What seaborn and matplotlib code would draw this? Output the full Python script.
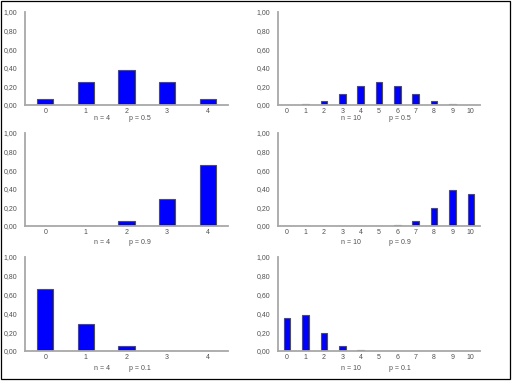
import matplotlib
matplotlib.use("Agg")
import matplotlib.pyplot as plt
import matplotlib.ticker as mtick
from matplotlib.patches import Rectangle
import seaborn as sns

# probabilities
k4 = [0, 1, 2, 3, 4]
k10 = [0, 1, 2, 3, 4, 5, 6, 7, 8, 9, 10]
p4_05 = [0.0625, 0.25, 0.375, 0.25, 0.0625]
p10_05 = [0.001, 0.010, 0.044, 0.117, 0.205, 0.246, 0.205, 0.117, 0.044, 0.010, 0.001]
p4_09 = [0.0001, 0.0036, 0.0486, 0.2916, 0.6561]
p10_09 = [0.0, 0.0, 0.0, 0.0, 0.0001, 0.0015, 0.011, 0.057, 0.194, 0.387, 0.349]
p4_01 = [0.6561, 0.2916, 0.0486, 0.0036, 0.0001]
p10_01 = [0.349, 0.387, 0.194, 0.057, 0.011, 0.0015, 0.0001, 0.0, 0.0, 0.0, 0.0]

panels = [
    (k4, p4_05, "4", "0.5"), (k10, p10_05, "10", "0.5"),
    (k4, p4_09, "4", "0.9"), (k10, p10_09, "10", "0.9"),
    (k4, p4_01, "4", "0.1"), (k10, p10_01, "10", "0.1"),
]

sns.set_style("white")
plt.rcParams['font.family'] = ['Liberation Sans', 'DejaVu Sans']

W, H = 512, 384
fig = plt.figure(figsize=(W / 100, H / 100), dpi=100)

# pixel boxes: left, right, top, bottom
cols = [(25, 228), (278, 480)]
rows = [(12, 105), (133, 226), (257, 351)]
label_y = [118, 243, 368]
n_x = [102, 351]
p_x = [140, 400]

spine_c = '#a8a8a8'
text_c = '#505050'
fmt = mtick.FuncFormatter(lambda v, pos: f"{v:.2f}".replace('.', ','))

for i, (k, probs, n, p) in enumerate(panels):
    r, c = divmod(i, 2)
    l, rr = cols[c]
    t, b = rows[r]
    ax = fig.add_axes([l / W, 1 - b / H, (rr - l) / W, (b - t) / H])
    sns.barplot(x=k, y=probs, ax=ax, color='#0000ff', saturation=1,
                width=0.4 if len(k) == 5 else 0.36,
                edgecolor='#505050', linewidth=0.8)
    ax.set_xlim(-0.5, len(k) - 0.5)
    ax.set_ylim(0, 1.0)
    ax.set_yticks([0, 0.2, 0.4, 0.6, 0.8, 1.0])
    ax.yaxis.set_major_formatter(fmt)
    sns.despine(ax=ax)
    for s in ['left', 'bottom']:
        ax.spines[s].set_color(spine_c)
        ax.spines[s].set_linewidth(1.3)
    ax.tick_params(axis='y', length=5, width=0.8, color='#808080',
                   labelsize=5, labelcolor=text_c, pad=0.5)
    ax.tick_params(axis='x', length=1.5, width=0.8, color='#808080',
                   labelsize=5, labelcolor=text_c, pad=0.5)
    ax.set_xlabel('')
    ax.set_ylabel('')
    fig.text(n_x[c] / W, 1 - label_y[r] / H, f"n = {n}", ha='center', va='center',
             fontsize=5, color=text_c)
    fig.text(p_x[c] / W, 1 - label_y[r] / H, f"p = {p}", ha='center', va='center',
             fontsize=5, color=text_c)

# outer frame
fig.add_artist(Rectangle((1 / W, 1 - 379 / H), 509 / W, 378 / H, transform=fig.transFigure,
                         fill=False, edgecolor='black', linewidth=0.9))

fig.savefig('out.png', dpi=100)
